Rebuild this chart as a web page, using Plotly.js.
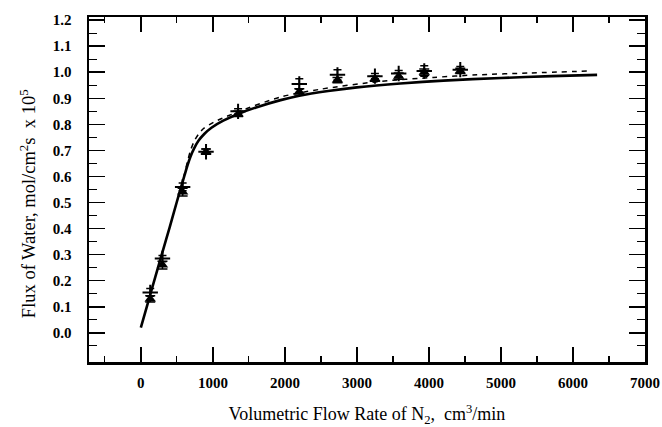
<!DOCTYPE html>
<html><head><meta charset="utf-8">
<script src="https://cdn.plot.ly/plotly-3.0.1.min.js"></script>
<style>html,body{margin:0;padding:0;background:#fff;}#chart{width:662px;height:427px;}</style>
</head><body><div id="chart"></div>
<script>
// Data
var flowRate = [130, 300, 580, 905, 1350, 2200, 2730, 3250, 3580, 3935, 4435];
var fluxTriangle = [0.13, 0.26, 0.54, 0.695, 0.84, 0.925, 0.97, 0.975, 0.985, 1.0, 1.005];
var errTriangle = [0.012, 0.015, 0.015, 0.01, 0.01, 0.012, 0.01, 0.01, 0.012, 0.012, 0.01];
var fluxPlus = [0.155, 0.285, 0.56, 0.695, 0.85, 0.955, 0.99, 0.985, 0.995, 1.005, 1.01];
var errPlus = [0.015, 0.012, 0.015, 0.01, 0.01, 0.02, 0.02, 0.01, 0.012, 0.02, 0.012];

var solidX = [0, 100, 200, 300, 400, 500, 560, 610, 650, 690, 740, 800, 880, 980, 1144, 1350, 1600, 1940, 2200, 2600, 3000, 3600, 4200, 5000, 5700, 6335];
var solidY = [0.02, 0.117, 0.214, 0.31, 0.405, 0.503, 0.56, 0.608, 0.645, 0.677, 0.708, 0.737, 0.763, 0.787, 0.814, 0.84, 0.865, 0.893, 0.91, 0.928, 0.942, 0.957, 0.968, 0.978, 0.985, 0.99];
var dashX = [560, 610, 650, 690, 740, 800, 871, 1010, 1350, 1940, 2500, 3325, 4061, 4668, 5400, 6265];
var dashY = [0.56, 0.615, 0.66, 0.7, 0.735, 0.762, 0.784, 0.808, 0.848, 0.905, 0.935, 0.965, 0.98, 0.99, 0.997, 1.005];

var xTicks = [0, 1000, 2000, 3000, 4000, 5000, 6000, 7000];
var yTicks = [0, 0.1, 0.2, 0.3, 0.4, 0.5, 0.6, 0.7, 0.8, 0.9, 1.0, 1.1, 1.2];
var yTickText = ['0.0','0.1','0.2','0.3','0.4','0.5','0.6','0.7','0.8','0.9','1.0','1.1','1.2'];
var xMinor = [-500, 500, 1500, 2500, 3500, 4500, 5500, 6500];
var yMinor = [-0.05, 0.05, 0.15, 0.25, 0.35, 0.45, 0.55, 0.65, 0.75, 0.85, 0.95, 1.05, 1.15];

var serif = 'Liberation Serif, Times New Roman, serif';

var traces = [
  {x: solidX, y: solidY, mode: 'lines', line: {color: '#000', width: 2.6, shape: 'spline', smoothing: 0.8}, hoverinfo: 'skip'},
  {x: dashX, y: dashY, mode: 'lines', line: {color: '#000', width: 1.5, dash: '5px,5px', shape: 'spline', smoothing: 0.8}, hoverinfo: 'skip'},
  {x: flowRate, y: fluxTriangle, mode: 'markers', marker: {symbol: 'triangle-up', size: 10, color: '#000'},
   error_y: {type: 'data', array: errTriangle, visible: true, color: '#000', thickness: 1.5, width: 5}},
  {x: flowRate, y: fluxPlus, mode: 'markers', marker: {symbol: 'cross-thin-open', size: 11, color: '#000', line: {color: '#000', width: 2}},
   error_y: {type: 'data', array: errPlus, visible: true, color: '#000', thickness: 1.5, width: 4}}
];

var layout = {
  width: 662, height: 427,
  margin: {l: 89, r: 17, t: 17, b: 65},
  paper_bgcolor: '#fff', plot_bgcolor: '#fff',
  showlegend: false,
  font: {family: serif, color: '#000'},
  xaxis: {
    range: [-720, 7000], showgrid: false, zeroline: false,
    showline: true, linecolor: '#000', linewidth: 2.5, mirror: 'ticks',
    ticks: 'inside', ticklen: 15, tickwidth: 1.5, tickcolor: '#000',
    tickmode: 'array', tickvals: xTicks,
    tickfont: {family: serif, size: 15, weight: 'bold'},
    ticklabelstandoff: 5,
    minor: {tickmode: 'array', tickvals: xMinor, ticks: 'inside', ticklen: 6, tickwidth: 1.2, tickcolor: '#000', showgrid: false},
    title: {text: 'Volumetric Flow Rate of N<sub>2</sub>,  cm<sup>3</sup>/min', font: {family: serif, size: 18}, standoff: 20}
  },
  yaxis: {
    range: [-0.112, 1.212], showgrid: false, zeroline: false,
    showline: true, linecolor: '#000', linewidth: 2.5, mirror: 'ticks',
    ticks: 'inside', ticklen: 16, tickwidth: 1.5, tickcolor: '#000',
    tickmode: 'array', tickvals: yTicks, ticktext: yTickText,
    tickfont: {family: serif, size: 15, weight: 'bold'},
    ticklabelstandoff: 12,
    minor: {tickmode: 'array', tickvals: yMinor, ticks: 'inside', ticklen: 8, tickwidth: 1.2, tickcolor: '#000', showgrid: false}
  },
  annotations: [{
    text: 'Flux of Water, mol/cm<sup>2</sup>s  x 10<sup>5</sup>',
    xref: 'paper', yref: 'paper', x: -0.11, y: 0.46, xanchor: 'center', yanchor: 'middle',
    textangle: -90, showarrow: false, font: {family: serif, size: 18.5, color: '#000'}
  }]
};

Plotly.newPlot('chart', traces, layout, {displayModeBar: false, staticPlot: true});
</script></body></html>
